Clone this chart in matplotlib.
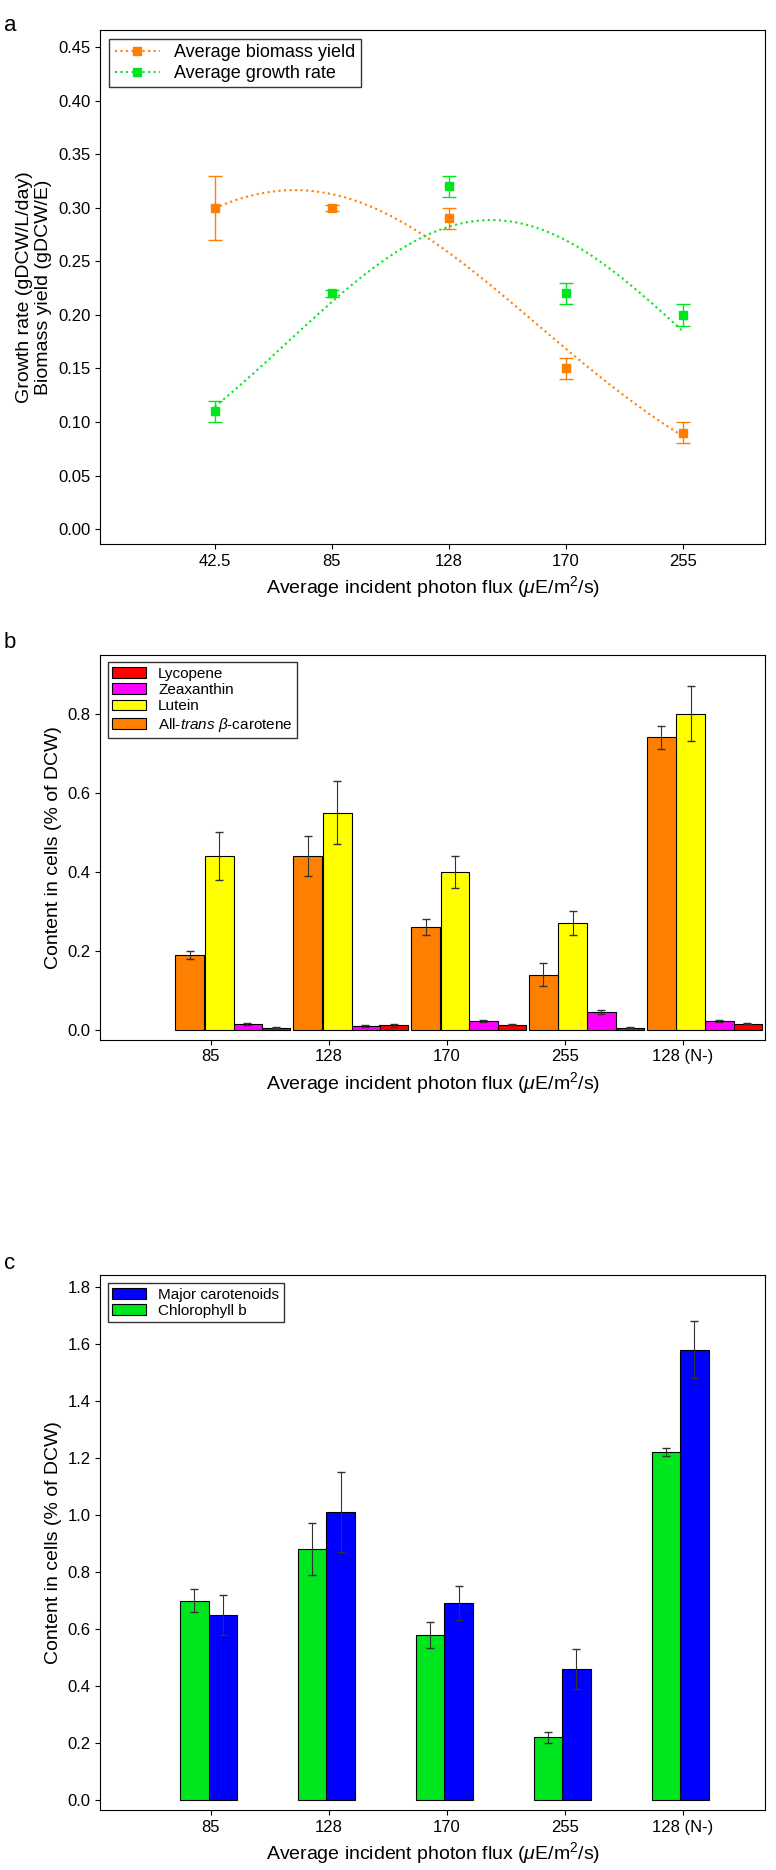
import matplotlib
matplotlib.use("Agg")
import matplotlib.pyplot as plt
import numpy as np

plt.rcParams["font.family"] = "Liberation Sans"
plt.rcParams["font.size"] = 13
plt.rcParams["mathtext.fontset"] = "custom"
plt.rcParams["mathtext.rm"] = "Liberation Sans"
plt.rcParams["mathtext.it"] = "Liberation Sans:italic"

# panel a
flux_a = ["42.5", "85", "128", "170", "255"]
biomass = [0.30, 0.30, 0.29, 0.15, 0.09]
biomass_err = [0.03, 0.003, 0.01, 0.01, 0.01]
growth = [0.11, 0.22, 0.32, 0.22, 0.20]
growth_err = [0.01, 0.003, 0.01, 0.01, 0.01]

# panel b
flux_b = ["85", "128", "170", "255", "128 (N-)"]
bcar = [0.19, 0.44, 0.26, 0.14, 0.74]
bcar_err = [0.01, 0.05, 0.02, 0.03, 0.03]
lutein = [0.44, 0.55, 0.40, 0.27, 0.80]
lutein_err = [0.06, 0.08, 0.04, 0.03, 0.07]
zea = [0.015, 0.010, 0.022, 0.045, 0.022]
zea_err = [0.003, 0.003, 0.002, 0.005, 0.002]
lyc = [0.005, 0.012, 0.013, 0.005, 0.016]
lyc_err = [0.001, 0.004, 0.002, 0.001, 0.001]

# panel c
chlb = [0.70, 0.88, 0.58, 0.22, 1.22]
chlb_err = [0.04, 0.09, 0.045, 0.02, 0.015]
majcar = [0.65, 1.01, 0.69, 0.46, 1.58]
majcar_err = [0.07, 0.14, 0.06, 0.07, 0.10]

ORANGE = "#ff7f00"
GREEN = "#00e61e"
xlab = r"Average incident photon flux ($\mu$E/m$^2$/s)"

fig = plt.figure(figsize=(7.76, 18.7), dpi=100)
axa = fig.add_axes([0.129, 0.709, 0.857, 0.275])
axb = fig.add_axes([0.129, 0.444, 0.857, 0.206])
axc = fig.add_axes([0.129, 0.032, 0.857, 0.286])

x = np.arange(1, 6)
xs = np.linspace(1, 5, 200)
for y, e, c, lab in [(biomass, biomass_err, ORANGE, "Average biomass yield"),
                     (growth, growth_err, GREEN, "Average growth rate")]:
    # gaussian-type fit (quadratic in log space)
    fit = np.exp(np.polyval(np.polyfit(x, np.log(y), 2), xs))
    axa.plot(xs, fit, ":", color=c, lw=1.5)
    axa.errorbar(x, y, yerr=e, fmt="s", color=c, ms=6, capsize=5, elinewidth=1, ls="none")
    axa.plot([], [], ":", marker="s", color=c, ms=6, lw=1.5, label=lab)
axa.set_xlim(0.02, 5.7)
axa.set_ylim(-0.014, 0.466)
axa.set_yticks(np.arange(0, 0.46, 0.05))
axa.set_xticks(x)
axa.set_xticklabels(flux_a)
axa.set_xlabel(xlab, fontsize=14)
axa.set_ylabel("Growth rate (gDCW/L/day)\nBiomass yield (gDCW/E)", fontsize=14)
axa.legend(loc="upper left", fontsize=13, handlelength=2.5, borderpad=0.3,
           labelspacing=0.2, fancybox=False, edgecolor="black")

w = 0.245
ek = dict(capsize=3, elinewidth=0.8, ecolor="#333333")
axb.bar(x + 0.55, lyc, w, yerr=lyc_err, color="#ff0000", edgecolor="black", lw=0.8, label="Lycopene", error_kw=ek)
axb.bar(x + 0.31, zea, w, yerr=zea_err, color="#ff00ff", edgecolor="black", lw=0.8, label="Zeaxanthin", error_kw=ek)
axb.bar(x + 0.07, lutein, w, yerr=lutein_err, color="#ffff00", edgecolor="black", lw=0.8, label="Lutein", error_kw=ek)
axb.bar(x - 0.18, bcar, w, yerr=bcar_err, color=ORANGE, edgecolor="black", lw=0.8,
        label=r"All-$\it{trans}$ $\beta$-carotene", error_kw=ek)
axb.set_xlim(0.06, 5.7)
axb.set_ylim(-0.025, 0.95)
axb.set_yticks(np.arange(0, 0.81, 0.2))
axb.set_yticklabels(["0.0", "0.2", "0.4", "0.6", "0.8"])
axb.set_xticks(x)
axb.set_xticklabels(flux_b)
axb.set_xlabel(xlab, fontsize=14)
axb.set_ylabel("Content in cells (% of DCW)", fontsize=14)
axb.legend(loc="upper left", fontsize=11, borderpad=0.3, labelspacing=0.15,
           handlelength=2.2, fancybox=False, edgecolor="black")

w = 0.24
axc.bar(x + 0.10, majcar, w, yerr=majcar_err, color="#0000ff", edgecolor="black", lw=0.8, label="Major carotenoids", error_kw=ek)
axc.bar(x - 0.14, chlb, w, yerr=chlb_err, color=GREEN, edgecolor="black", lw=0.8, label="Chlorophyll b", error_kw=ek)
axc.set_xlim(0.06, 5.7)
axc.set_ylim(-0.035, 1.84)
axc.set_yticks(np.arange(0, 1.81, 0.2))
axc.set_yticklabels(["%.1f" % v for v in np.arange(0, 1.81, 0.2)])
axc.set_xticks(x)
axc.set_xticklabels(flux_b)
axc.set_xlabel(xlab, fontsize=14)
axc.set_ylabel("Content in cells (% of DCW)", fontsize=14)
axc.legend(loc="upper left", fontsize=11, borderpad=0.3, labelspacing=0.15,
           handlelength=2.2, fancybox=False, edgecolor="black")

for ax in (axa, axb, axc):
    ax.tick_params(direction="out", labelsize=12)

fig.text(0.005, 0.992, "a", fontsize=16, va="top")
fig.text(0.005, 0.662, "b", fontsize=16, va="top")
fig.text(0.005, 0.330, "c", fontsize=16, va="top")

fig.savefig("out.png", dpi=100)
